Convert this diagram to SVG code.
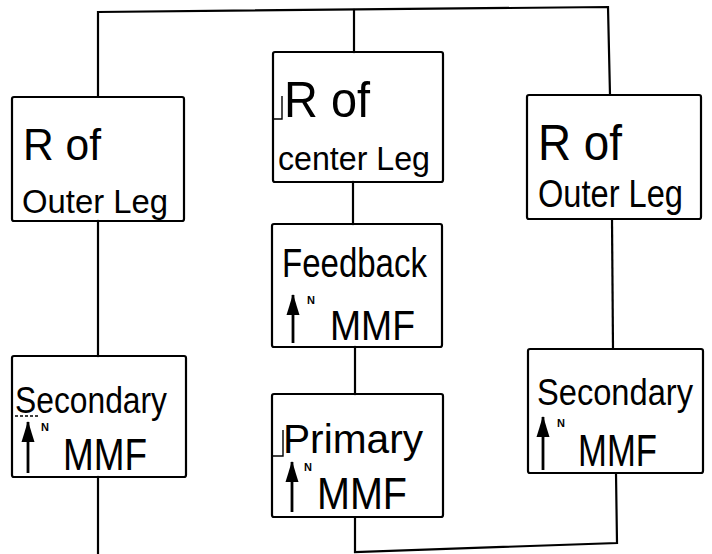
<svg xmlns="http://www.w3.org/2000/svg" width="712" height="554" viewBox="0 0 712 554">
  <defs>
    <style>
      .box { fill: none; stroke: #000; stroke-width: 2.2; }
      .wire { fill: none; stroke: #000; stroke-width: 2.2; stroke-linecap: square; }
      .mark { fill: none; stroke: #000; stroke-width: 1.4; }
      .lbl { font-family: "Liberation Sans", Arial, sans-serif; fill: #000; }
      .sup { font-family: "Liberation Sans", Arial, sans-serif; fill: #000; font-size: 11px; font-weight: bold; }
      .dir { stroke: #000; stroke-width: 2.8; marker-end: url(#head); }
    </style>
    <marker id="head" markerUnits="userSpaceOnUse" markerWidth="22" markerHeight="14" refX="20" refY="7" orient="auto" overflow="visible">
      <path d="M0,0.5 L21,7 L0,13.5 z" fill="#000"/>
    </marker>
  </defs>
  <rect width="712" height="554" fill="#fff"/>

  <!-- connecting paths of the magnetic circuit -->
  <g id="connectors">
    <path class="wire" d="M98,97 V12 L608,7 L610,95"/>
    <path class="wire" d="M354,10 V52"/>
    <path class="wire" d="M98,221 V356"/>
    <path class="wire" d="M98,477 V554"/>
    <path class="wire" d="M353,182 V224"/>
    <path class="wire" d="M355,347 V394"/>
    <path class="wire" d="M355,517 V552 L617,543 L616,473"/>
    <path class="wire" d="M612,219 L613,349"/>
  </g>

  <!-- reluctance of left outer leg -->
  <g id="r-outer-left">
    <rect class="box" x="12" y="97" width="172" height="124" rx="2"/>
    <text class="lbl" x="23" y="160" font-size="44" textLength="78" lengthAdjust="spacingAndGlyphs">R of</text>
    <text class="lbl" x="22" y="213" font-size="34" textLength="146" lengthAdjust="spacingAndGlyphs">Outer Leg</text>
  </g>

  <!-- reluctance of center leg -->
  <g id="r-center">
    <rect class="box" x="273" y="52" width="170" height="130" rx="2"/>
    <path class="mark" d="M282,96 V119 H274"/>
    <text class="lbl" x="284" y="117" font-size="50" textLength="86" lengthAdjust="spacingAndGlyphs">R of</text>
    <text class="lbl" x="278" y="170" font-size="34" textLength="152" lengthAdjust="spacingAndGlyphs">center Leg</text>
  </g>

  <!-- reluctance of right outer leg -->
  <g id="r-outer-right">
    <rect class="box" x="527" y="95" width="174" height="124" rx="2"/>
    <text class="lbl" x="538" y="160" font-size="50" textLength="84" lengthAdjust="spacingAndGlyphs">R of</text>
    <text class="lbl" x="538" y="207" font-size="38" textLength="145" lengthAdjust="spacingAndGlyphs">Outer Leg</text>
  </g>

  <!-- feedback winding MMF -->
  <g id="feedback-mmf">
    <rect class="box" x="272" y="224" width="170" height="123" rx="2"/>
    <text class="lbl" x="282" y="277" font-size="40" textLength="145" lengthAdjust="spacingAndGlyphs">Feedback</text>
    <line class="dir" x1="293" y1="343" x2="293" y2="295"/>
    <text class="sup" x="307" y="304">N</text>
    <text class="lbl" x="330" y="340" font-size="42" textLength="85" lengthAdjust="spacingAndGlyphs">MMF</text>
  </g>

  <!-- primary winding MMF -->
  <g id="primary-mmf">
    <rect class="box" x="272" y="394" width="171" height="123" rx="2"/>
    <path class="mark" d="M283,430 V456 H273"/>
    <text class="lbl" x="283" y="453" font-size="40" textLength="140" lengthAdjust="spacingAndGlyphs">Primary</text>
    <line class="dir" x1="292" y1="512" x2="292" y2="462"/>
    <text class="sup" x="304" y="471">N</text>
    <text class="lbl" x="317" y="509" font-size="44" textLength="90" lengthAdjust="spacingAndGlyphs">MMF</text>
  </g>

  <!-- left secondary winding MMF -->
  <g id="secondary-left">
    <rect class="box" x="12" y="356" width="174" height="121" rx="2"/>
    <text class="lbl" x="15" y="413" font-size="36" textLength="152" lengthAdjust="spacingAndGlyphs">Secondary</text>
    <path class="mark" d="M15,416 H40" stroke-dasharray="3 2"/>
    <line class="dir" x1="28" y1="473" x2="28" y2="422"/>
    <text class="sup" x="41" y="431">N</text>
    <text class="lbl" x="63" y="470" font-size="44" textLength="84" lengthAdjust="spacingAndGlyphs">MMF</text>
  </g>

  <!-- right secondary winding MMF -->
  <g id="secondary-right">
    <rect class="box" x="528" y="349" width="175" height="124" rx="2"/>
    <text class="lbl" x="537" y="405" font-size="36" textLength="156" lengthAdjust="spacingAndGlyphs">Secondary</text>
    <line class="dir" x1="543" y1="470" x2="543" y2="417"/>
    <text class="sup" x="557" y="427">N</text>
    <text class="lbl" x="578" y="466" font-size="44" textLength="79" lengthAdjust="spacingAndGlyphs">MMF</text>
  </g>
</svg>
